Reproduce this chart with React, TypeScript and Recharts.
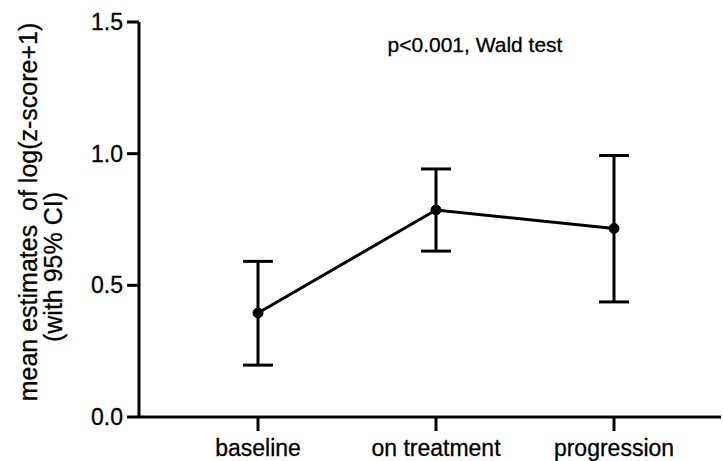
import React from 'react';
import { LineChart, Line, XAxis, YAxis, ErrorBar } from 'recharts';

const categories = ['baseline', 'on treatment', 'progression'];
const meanValues = [0.395, 0.786, 0.716];
const lowerCI = [0.197, 0.63, 0.437];
const upperCI = [0.591, 0.942, 0.993];
const yTicks = [0, 0.5, 1.0, 1.5];
const titleText = 'p<0.001, Wald test';
const yLabelLine1 = 'mean estimates  of log(z-score+1)';
const yLabelLine2 = '(with 95% CI)';

const data = categories.map((c, i) => ({
  name: c,
  mean: meanValues[i],
  err: [meanValues[i] - lowerCI[i], upperCI[i] - meanValues[i]],
}));

const FONT = '"Liberation Sans", Arial, sans-serif';

export default function App() {
  return (
    <div style={{ position: 'absolute', left: 0, top: 0, background: '#fff' }}>
      <LineChart
        width={723}
        height={461}
        data={data}
        margin={{ top: 22, right: 2, bottom: 0, left: 0 }}
      >
        <XAxis
          dataKey="name"
          type="category"
          padding={{ left: 119, right: 107 }}
          stroke="#000"
          strokeWidth={3}
          tickSize={14}
          tickMargin={9}
          height={44}
          tick={{ fill: '#000', fontSize: 23, fontFamily: FONT, stroke: '#000', strokeWidth: 0.3 }}
          tickLine={{ stroke: '#000', strokeWidth: 3 }}
        />
        <YAxis
          type="number"
          domain={[0, 1.5]}
          ticks={yTicks}
          tickFormatter={(v: number) => v.toFixed(1)}
          width={139}
          stroke="#000"
          strokeWidth={3}
          tickSize={12}
          tickMargin={4}
          tick={{ fill: '#000', fontSize: 23, fontFamily: FONT, stroke: '#000', strokeWidth: 0.3 }}
          tickLine={{ stroke: '#000', strokeWidth: 3 }}
        />
        <Line
          dataKey="mean"
          stroke="#000"
          strokeWidth={3}
          isAnimationActive={false}
          dot={{ r: 5, fill: '#000', stroke: '#000', strokeWidth: 1 }}
          activeDot={false}
        >
          <ErrorBar
            dataKey="err"
            direction="y"
            width={15}
            stroke="#000"
            strokeWidth={3}
            isAnimationActive={false}
          />
        </Line>
        <text
          x={475}
          y={52}
          textAnchor="middle"
          fontSize={21}
          fontFamily={FONT}
          fill="#000"
          stroke="#000"
          strokeWidth={0.3}
        >
          {titleText}
        </text>
        <text
          x={37}
          y={212}
          transform="rotate(-90, 37, 212)"
          textAnchor="middle"
          fontSize={25}
          fontFamily={FONT}
          fill="#000"
          stroke="#000"
          strokeWidth={0.3}
          style={{ whiteSpace: 'pre' }}
        >
          {yLabelLine1}
        </text>
        <text
          x={62}
          y={267}
          transform="rotate(-90, 62, 267)"
          textAnchor="middle"
          fontSize={25}
          fontFamily={FONT}
          fill="#000"
          stroke="#000"
          strokeWidth={0.3}
        >
          {yLabelLine2}
        </text>
      </LineChart>
    </div>
  );
}
